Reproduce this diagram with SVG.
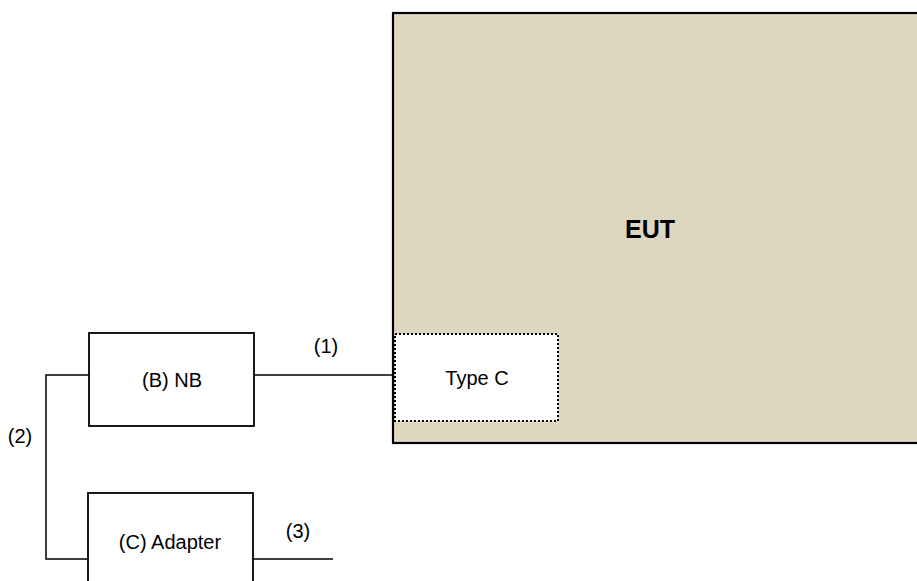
<svg xmlns="http://www.w3.org/2000/svg" width="917" height="581" viewBox="0 0 917 581">
<style>
text{font-family:"Liberation Sans",Arial,sans-serif;font-size:20px;fill:#000;text-anchor:middle;dominant-baseline:central}
.box{fill:#fff;stroke:#000;stroke-width:1.8}
.wire{fill:none;stroke:#000;stroke-width:1.5}
</style>
<rect width="917" height="581" fill="#fff"/>
<g id="eut">
<rect x="393" y="13" width="530" height="430" fill="#ddd7c2" stroke="#000" stroke-width="2.2"/>
<text x="650" y="229" style="font-weight:bold;font-size:25px">EUT</text>
</g>
<g id="typec">
<rect x="395" y="334" width="163" height="87" fill="#fff" stroke="#000" stroke-width="2" stroke-dasharray="2,2"/>
<text x="477" y="378">Type C</text>
</g>
<g id="nb">
<rect class="box" x="89" y="333" width="165" height="93"/>
<text x="172" y="380">(B) NB</text>
</g>
<g id="adapter">
<rect class="box" x="88" y="493" width="165" height="100"/>
<text x="170" y="542">(C) Adapter</text>
</g>
<g id="connectors">
<path class="wire" d="M254 375H393"/>
<path class="wire" d="M89 375H46V559H88"/>
<path class="wire" d="M253 559H333"/>
<text x="326" y="346">(1)</text>
<text x="20" y="436">(2)</text>
<text x="298" y="531">(3)</text>
</g>
</svg>
